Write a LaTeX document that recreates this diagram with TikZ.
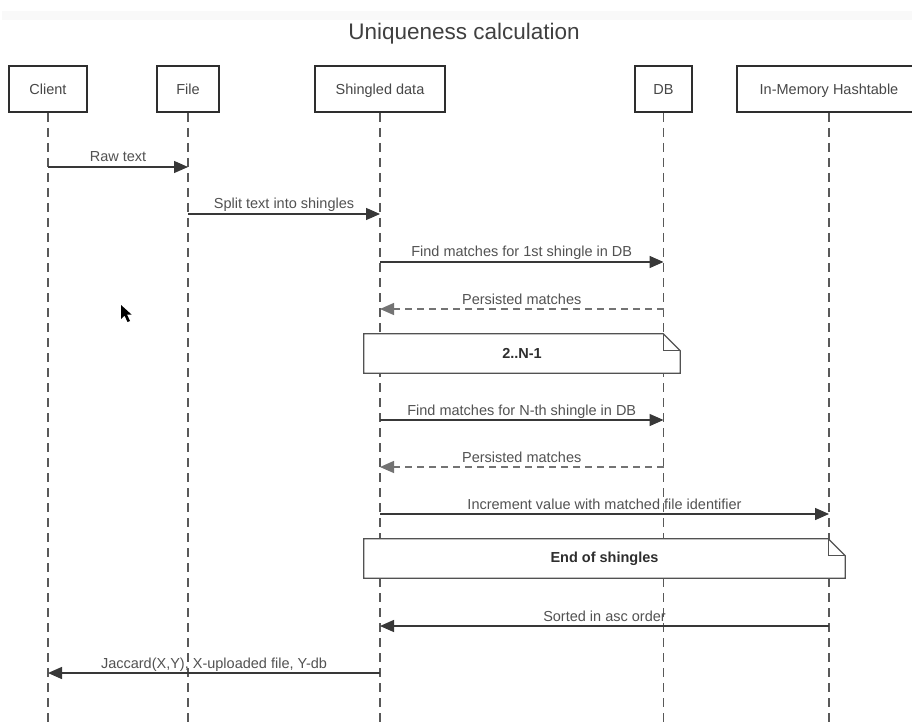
\documentclass[tikz,border=0pt]{standalone}
\usepackage{fontspec}
\setmainfont{Liberation Sans}
\usetikzlibrary{arrows.meta}
\begin{document}
\begin{tikzpicture}[x=1pt,y=-1pt,
  part/.style={draw=black!82, line width=2pt, fill=white, minimum height=46pt, inner sep=0pt,
               text height=10.4pt, text depth=0pt,
               font=\fontsize{14.5}{17}\selectfont, text=black!72},
  life/.style={draw=black!65, line width=1.1pt, dash pattern=on 9pt off 6pt},
  msg/.style={draw=black!78, line width=1.4pt, -{Triangle[length=14pt,width=12pt]}},
  ret/.style={msg, draw=black!55, dash pattern=on 7pt off 5pt},
  lbl/.style={font=\fontsize{14.5}{17}\selectfont, text=black!68, inner sep=0pt, anchor=base, yshift=5pt},
  noteshape/.style={draw=black!68, line width=1.2pt, fill=white, line join=miter},
  notearea/.style={minimum height=39pt, inner sep=0pt},
  notetxt/.style={font=\bfseries\fontsize{14.5}{17}\selectfont, text=black!82, inner sep=0pt}
]
\useasboundingbox (0,0) rectangle (912,727);
\clip (0,0) rectangle (912,727);
\fill[white] (0,0) rectangle (912,727);
\fill[black!2.5] (2,11) rectangle (912,20);

% title
\node[font=\fontsize{22.5}{26}\selectfont, text=black!75, anchor=base, inner sep=0pt] (title) at (464,40) {Uniqueness calculation};

% participants
\node[part, minimum width=78pt]  (client) at (48,89)    {Client};
\node[part, minimum width=62pt]  (file)   at (188,89)   {File};
\node[part, minimum width=130pt] (shing)  at (380,89)   {Shingled data};
\node[part, minimum width=57pt]  (db)     at (663.5,89) {DB};
\node[part, minimum width=184pt] (hash)   at (829,89)   {In-Memory Hashtable};

% lifelines
\foreach \p in {client,file,shing,db,hash}{
  \coordinate (\p-end) at (\p.south |- 0,730);
  \draw[life] (\p.south) -- (\p-end);
}

% message anchor points
\foreach \p in {client,file,shing,db,hash}{
  \foreach \y/\k in {167/a,214/b,262/c,309/d,420/e,467/f,514/g,626/h,673/i}{
    \coordinate (\p-\k) at (\p.south |- 0,\y);
  }
}

% messages
\draw[msg] (client-a) -- node[lbl] {Raw text} (file-a);
\draw[msg] (file-b) -- node[lbl] {Split text into shingles} (shing-b);
\draw[msg] (shing-c) -- node[lbl] {Find matches for 1st shingle in DB} (db-c);
\draw[ret] (db-d) -- node[lbl] {Persisted matches} (shing-d);

% note 2..N-1
\node[notearea, minimum width=316pt] (n1) at (522,353.5) {};
\draw[noteshape] (n1.north west) -- ([xshift=-17pt]n1.north east) -- ([yshift=-17pt]n1.north east)
  -- (n1.south east) -- (n1.south west) -- cycle;
\draw[noteshape, fill=none] ([xshift=-17pt]n1.north east) -- ([xshift=-17pt,yshift=-17pt]n1.north east)
  -- ([yshift=-17pt]n1.north east);
\node[notetxt] (n1t) at (n1.center) {2..N-1};

\draw[msg] (shing-e) -- node[lbl] {Find matches for N-th shingle in DB} (db-e);
\draw[ret] (db-f) -- node[lbl] {Persisted matches} (shing-f);
\draw[msg] (shing-g) -- node[lbl] {Increment value with matched file identifier} (hash-g);

% note End of shingles
\node[notearea, minimum width=481pt] (n2) at (604.5,558.5) {};
\draw[noteshape] (n2.north west) -- ([xshift=-17pt]n2.north east) -- ([yshift=-17pt]n2.north east)
  -- (n2.south east) -- (n2.south west) -- cycle;
\draw[noteshape, fill=none] ([xshift=-17pt]n2.north east) -- ([xshift=-17pt,yshift=-17pt]n2.north east)
  -- ([yshift=-17pt]n2.north east);
\node[notetxt] (n2t) at (n2.center) {End of shingles};

\draw[msg] (hash-h) -- node[lbl] {Sorted in asc order} (shing-h);
\draw[msg] (shing-i) -- node[lbl] {Jaccard(X,Y), X-uploaded file, Y-db} (client-i);

% mouse cursor
\fill[black] (121,305) -- (121,319) -- (124.5,315.5) -- (127.5,322) -- (130,321) -- (127,314.5) -- (131.5,314.5) -- cycle;
\end{tikzpicture}
\end{document}
